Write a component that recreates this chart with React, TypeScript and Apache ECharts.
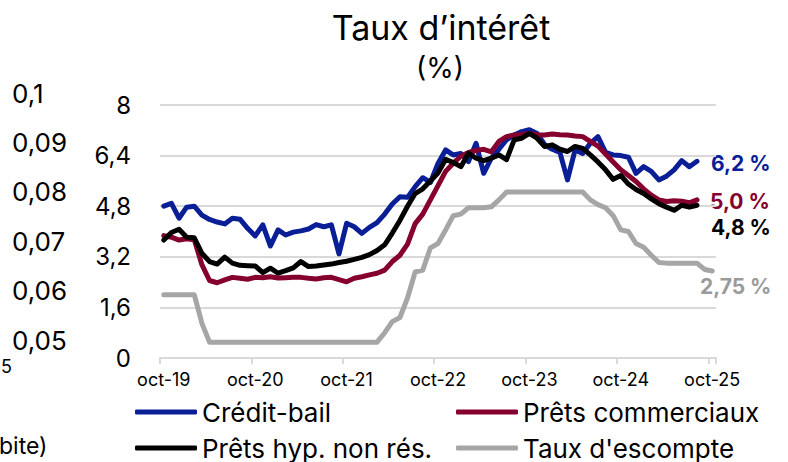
import React, { useEffect, useRef } from "react";
import * as echarts from "echarts";

// Monthly categories: Oct 2019 .. Oct 2025
const monthNames = ["janv", "févr", "mars", "avr", "mai", "juin", "juil", "août", "sept", "oct", "nov", "déc"];
const categories: string[] = [];
for (let i = 0; i < 73; i++) {
  const m = (9 + i) % 12;
  const y = 2019 + Math.floor((9 + i) / 12);
  categories.push(`${monthNames[m]}-${String(y).slice(2)}`);
}

const seriesNames = ["Crédit-bail", "Prêts commerciaux", "Prêts hyp. non rés.", "Taux d'escompte"];

const creditBail = [
  4.80, 4.89, 4.42, 4.77, 4.80, 4.52, 4.38, 4.30, 4.24, 4.42, 4.39, 4.10,
  3.86, 4.21, 3.54, 4.05, 3.89, 3.98, 4.02, 4.08, 4.22, 4.15, 4.21, 3.29,
  4.26, 4.15, 3.94, 4.13, 4.28, 4.55, 4.87, 5.10, 5.08, 5.42, 5.70, 5.55,
  6.15, 6.58, 6.42, 6.47, 6.21, 6.79, 5.84, 6.32, 6.60, 6.90, 7.05, 7.16,
  7.22, 7.10, 6.75, 6.60, 6.50, 5.63, 6.58, 6.47, 6.79, 7.00, 6.50, 6.42,
  6.40, 6.35, 5.84, 6.05, 5.90, 5.63, 5.75, 5.95, 6.24, 6.05, 6.22,
];

const pretsCommerciaux = [
  3.87, 3.82, 3.73, 3.77, 3.74, 2.95, 2.45, 2.38, 2.47, 2.55, 2.52, 2.49,
  2.55, 2.54, 2.57, 2.53, 2.54, 2.55, 2.55, 2.52, 2.50, 2.54, 2.55, 2.48,
  2.41, 2.52, 2.57, 2.63, 2.68, 2.78, 3.05, 3.25, 3.60, 4.25, 4.55, 5.00,
  5.45, 5.90, 6.16, 6.38, 6.50, 6.56, 6.60, 6.52, 6.85, 7.00, 7.05, 7.07,
  7.10, 7.06, 7.05, 7.08, 7.06, 7.05, 7.02, 7.00, 6.85, 6.70, 6.45, 6.20,
  5.95, 5.77, 5.58, 5.35, 5.15, 5.00, 4.95, 4.97, 4.96, 4.91, 5.00,
];

const pretsHyp = [
  3.73, 3.97, 4.07, 3.82, 3.80, 3.31, 3.05, 2.97, 3.19, 3.00, 2.93, 2.92,
  2.91, 2.70, 2.84, 2.68, 2.76, 2.85, 3.05, 2.89, 2.91, 2.94, 2.97, 3.02,
  3.06, 3.12, 3.18, 3.27, 3.40, 3.58, 3.95, 4.35, 4.80, 5.20, 5.35, 5.60,
  5.85, 6.28, 6.18, 6.05, 6.47, 6.32, 6.24, 6.32, 6.42, 6.27, 6.90, 6.95,
  7.10, 6.95, 6.69, 6.74, 6.60, 6.53, 6.69, 6.63, 6.42, 6.20, 5.95, 5.65,
  5.77, 5.50, 5.33, 5.20, 5.03, 4.88, 4.77, 4.67, 4.83, 4.77, 4.83,
];

const tauxEscompte = [
  2.0, 2.0, 2.0, 2.0, 2.0, 1.1, 0.5, 0.5, 0.5, 0.5, 0.5, 0.5,
  0.5, 0.5, 0.5, 0.5, 0.5, 0.5, 0.5, 0.5, 0.5, 0.5, 0.5, 0.5,
  0.5, 0.5, 0.5, 0.5, 0.5, 0.8, 1.15, 1.28, 1.9, 2.72, 2.78, 3.48,
  3.62, 4.05, 4.5, 4.55, 4.75, 4.75, 4.75, 4.78, 5.0, 5.25, 5.25, 5.25,
  5.25, 5.25, 5.25, 5.25, 5.25, 5.25, 5.25, 5.25, 5.0, 4.85, 4.75, 4.5,
  4.05, 4.0, 3.62, 3.5, 3.25, 3.02, 3.0, 3.0, 3.0, 3.0, 3.0, 2.8,
  2.75,
];

// left-hand leftover axis (other chart) tick range
const leftAxisMin = 0.05;
const leftAxisMax = 0.1;
const leftAxisStep = 0.01;

const colors = {
  blue: "#0A1E96",
  red: "#85002E",
  black: "#000000",
  grey: "#A6A6A6",
};

const FONT = "Inter";

const fmtComma = (v: number, d: number) => v.toFixed(d).replace(".", ",");

export default function App() {
  const ref = useRef<HTMLDivElement>(null);

  useEffect(() => {
    if (!ref.current) return;
    const chart = echarts.init(ref.current, null, { renderer: "svg" });

    const lineSeries = (name: string, data: number[], color: string, z: number) => ({
      name,
      type: "line",
      data,
      xAxisIndex: 0,
      yAxisIndex: 0,
      symbol: "none",
      z,
      itemStyle: { color },
      lineStyle: { color, width: 5, cap: "round", join: "round" },
    });

    const last = (a: number[]) => a[a.length - 1];

    const legendItem = (name: string, left: number, top: number) => ({
      data: [name],
      orient: "horizontal",
      left,
      top,
      padding: 0,
      itemWidth: 62,
      itemHeight: 5,
      icon: "roundRect",
      textStyle: { fontSize: 26, color: "#000", fontFamily: FONT },
    });

    const option = {
      animation: false,
      backgroundColor: "#ffffff",
      textStyle: { fontFamily: FONT },
      grid: [
        { left: 160, right: 72, top: 105, bottom: 104 },
        { left: 100, right: 600, top: 93, bottom: 122 },
      ],
      xAxis: [
        {
          gridIndex: 0,
          type: "category",
          data: categories,
          boundaryGap: true,
          axisLine: { lineStyle: { color: "#D9D9D9", width: 2 } },
          axisTick: {
            show: true,
            interval: (i: number) => i % 12 === 0,
            length: 6,
            lineStyle: { color: "#D9D9D9", width: 2 },
          },
          axisLabel: {
            interval: (i: number) => i % 12 === 0,
            fontSize: 18,
            color: "#000",
            margin: 12,
            fontFamily: FONT,
          },
          splitLine: { show: false },
        },
        { gridIndex: 1, type: "value", show: false, min: 0, max: 1 },
      ],
      yAxis: [
        {
          gridIndex: 0,
          type: "value",
          min: 0,
          max: 8,
          interval: 1.6,
          axisLine: { show: false },
          axisTick: { show: false },
          splitLine: { lineStyle: { color: "#D9D9D9", width: 2 } },
          axisLabel: {
            fontSize: 24,
            color: "#000",
            margin: 29,
            fontFamily: FONT,
            formatter: (v: number) => String(Math.round(v * 10) / 10).replace(".", ","),
          },
        },
        {
          gridIndex: 1,
          type: "value",
          min: leftAxisMin,
          max: leftAxisMax,
          interval: leftAxisStep,
          axisLine: { show: false },
          axisTick: { show: false },
          splitLine: { show: false },
          axisLabel: {
            align: "left",
            margin: 88,
            fontSize: 26,
            color: "#000",
            fontFamily: FONT,
            formatter: (v: number) => String(Math.round(v * 100) / 100).replace(".", ","),
          },
        },
      ],
      legend: [
        legendItem(seriesNames[0], 135, 399),
        legendItem(seriesNames[1], 456, 399),
        legendItem(seriesNames[2], 135, 435),
        legendItem(seriesNames[3], 456, 435),
      ],
      series: [
        lineSeries(seriesNames[3], tauxEscompte, colors.grey, 1),
        lineSeries(seriesNames[0], creditBail, colors.blue, 2),
        lineSeries(seriesNames[1], pretsCommerciaux, colors.red, 3),
        lineSeries(seriesNames[2], pretsHyp, colors.black, 4),
        { type: "line", xAxisIndex: 1, yAxisIndex: 1, data: [], silent: true },
      ],
      graphic: [
        {
          type: "text",
          x: 441,
          y: 27,
          style: {
            text: "Taux d’intérêt",
            fontSize: 34,
            fontFamily: FONT,
            fill: "#000",
            textAlign: "center",
            textVerticalAlign: "middle",
          },
        },
        {
          type: "text",
          x: 440,
          y: 68,
          style: {
            text: "(%)",
            fontSize: 28,
            fontFamily: FONT,
            fill: "#000",
            textAlign: "center",
            textVerticalAlign: "middle",
          },
        },
        {
          type: "text",
          x: 711,
          y: 163,
          style: {
            text: `${fmtComma(last(creditBail), 1)} %`,
            fontSize: 21,
            fontWeight: "bold",
            fontFamily: FONT,
            fill: colors.blue,
            textVerticalAlign: "middle",
          },
        },
        {
          type: "text",
          x: 710,
          y: 201,
          style: {
            text: `${fmtComma(last(pretsCommerciaux), 1)} %`,
            fontSize: 21,
            fontWeight: "bold",
            fontFamily: FONT,
            fill: colors.red,
            textVerticalAlign: "middle",
          },
        },
        {
          type: "text",
          x: 711,
          y: 227,
          style: {
            text: `${fmtComma(last(pretsHyp), 1)} %`,
            fontSize: 21,
            fontWeight: "bold",
            fontFamily: FONT,
            fill: colors.black,
            textVerticalAlign: "middle",
          },
        },
        {
          type: "text",
          x: 700,
          y: 286,
          style: {
            text: `${fmtComma(last(tauxEscompte), 2)} %`,
            fontSize: 21,
            fontWeight: "bold",
            fontFamily: FONT,
            fill: "#9A9A9A",
            textVerticalAlign: "middle",
          },
        },
        {
          type: "text",
          x: 1,
          y: 366,
          style: { text: "5", fontSize: 18, fontFamily: FONT, fill: "#000", textVerticalAlign: "middle" },
        },
        {
          type: "text",
          x: -1,
          y: 446,
          style: { text: "bite)", fontSize: 23, fontFamily: FONT, fill: "#000", textVerticalAlign: "middle" },
        },
      ],
    };

    chart.setOption(option as any);
    return () => chart.dispose();
  }, []);

  return (
    <div
      ref={ref}
      style={{ position: "fixed", left: 0, top: 0, width: 788, height: 462, background: "#fff" }}
    />
  );
}
